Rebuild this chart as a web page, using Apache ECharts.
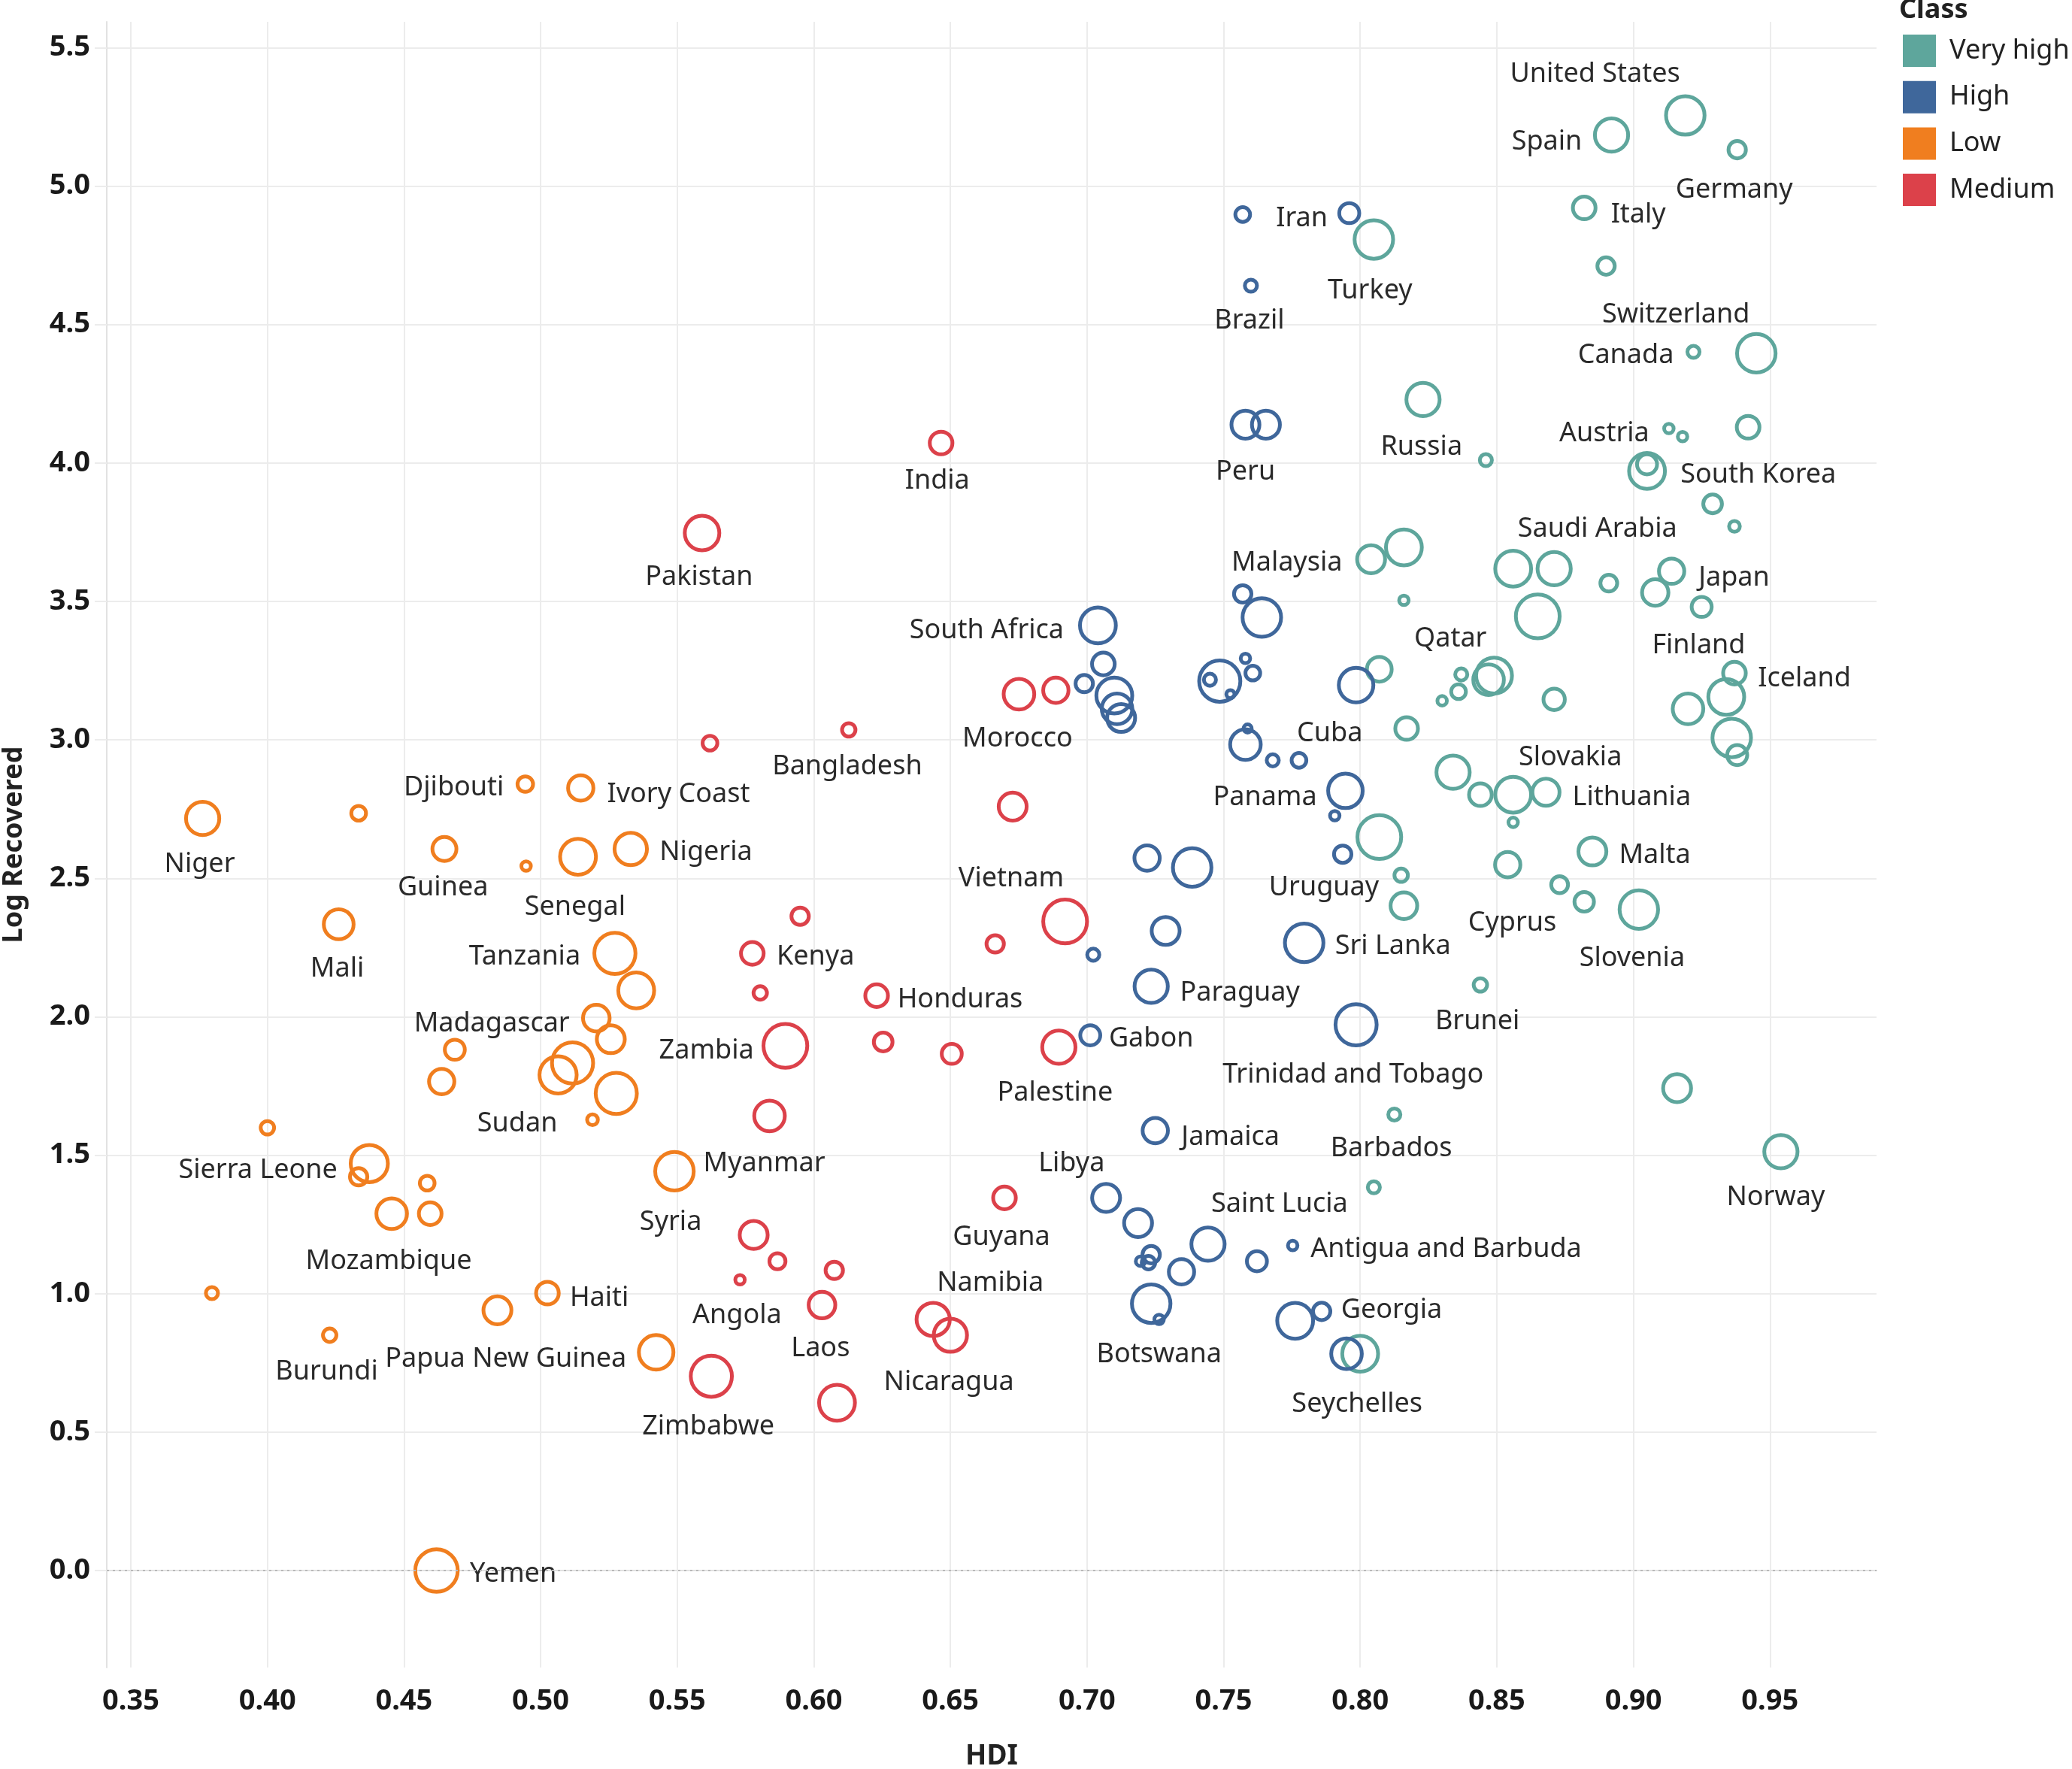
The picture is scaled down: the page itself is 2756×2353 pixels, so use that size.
<!DOCTYPE html>
<html><head><meta charset="utf-8">
<script src="https://cdn.jsdelivr.net/npm/echarts@6/dist/echarts.min.js"></script>
<style>html,body{margin:0;padding:0;background:#fff}#c{width:2756px;height:2353px}</style>
</head><body><div id="c"></div>
<script>
// ---------------- DATA ----------------
const classNames = ['Very high', 'High', 'Low', 'Medium'];
const xTickValues = [0.35, 0.40, 0.45, 0.50, 0.55, 0.60, 0.65, 0.70, 0.75, 0.80, 0.85, 0.90, 0.95];
const yTickValues = [0.0, 0.5, 1.0, 1.5, 2.0, 2.5, 3.0, 3.5, 4.0, 4.5, 5.0, 5.5];

const veryHighNames = ['United States','Spain','Germany','Italy','','Turkey','Switzerland','Canada','Russia','Austria','','','','South Korea','','','','Malaysia','','Saudi Arabia','','','Japan','','Finland','','','Iceland','Qatar','','','','','','','','','','','','','','Slovakia','Lithuania','','','Malta','','','','Cyprus','','Slovenia','Brunei','','Norway','Barbados','','Seychelles'];
const veryHighHDI = [0.919,0.892,0.938,0.882,0.890,0.805,0.945,0.922,0.823,0.913,0.918,0.942,0.846,0.905,0.905,0.929,0.937,0.804,0.816,0.856,0.871,0.891,0.914,0.908,0.925,0.865,0.816,0.937,0.849,0.847,0.837,0.836,0.830,0.871,0.920,0.934,0.936,0.938,0.807,0.817,0.834,0.844,0.856,0.868,0.856,0.807,0.885,0.854,0.815,0.816,0.873,0.882,0.902,0.844,0.916,0.954,0.8125,0.805,0.800];
const veryHighLog = [5.255,5.184,5.131,4.921,4.711,4.807,4.396,4.401,4.229,4.124,4.095,4.129,4.010,3.971,3.995,3.852,3.771,3.652,3.695,3.618,3.618,3.566,3.609,3.532,3.480,3.446,3.504,3.241,3.232,3.217,3.236,3.174,3.141,3.146,3.112,3.155,3.007,2.945,3.255,3.041,2.883,2.802,2.802,2.811,2.702,2.649,2.597,2.549,2.511,2.401,2.477,2.415,2.387,2.115,1.742,1.513,1.647,1.384,0.783];
const veryHighSize = [16,14,8,10,8,16,16,6,14,5,5,10,6,15,9,8.5,5.5,12,15,15,14,7.8,11,11.4,9,18,5,10,15,13,6,7,5,9.5,13,15,16,9,10.8,10,14,10,15,11.7,5,18,12,11,6.5,11.5,7.8,8.8,16,6.5,12,14,6,6,15];

const highNames = ['Iran','','Brazil','Peru','','','','South Africa','','','','','','','','','','','','','','','Cuba','Panama','','Uruguay','','','','','Sri Lanka','Paraguay','Gabon','Trinidad and Tobago','Jamaica','Libya','','Saint Lucia','','','','','','Antigua and Barbuda','','Botswana','','Georgia',''];
const highHDI = [0.796,0.757,0.760,0.758,0.7655,0.757,0.764,0.704,0.706,0.699,0.710,0.711,0.7125,0.7486,0.745,0.7525,0.758,0.7607,0.7588,0.758,0.768,0.7776,0.7985,0.7946,0.7907,0.7936,0.722,0.7385,0.7288,0.7023,0.7795,0.7235,0.7012,0.7985,0.725,0.707,0.7187,0.7443,0.7235,0.7225,0.7196,0.7346,0.7622,0.7753,0.7235,0.7264,0.7762,0.7859,0.795];
const highLog = [4.902,4.897,4.640,4.138,4.138,3.527,3.442,3.413,3.274,3.203,3.160,3.112,3.079,3.212,3.217,3.165,3.294,3.241,3.041,2.983,2.926,2.926,3.198,2.816,2.726,2.587,2.573,2.539,2.310,2.224,2.267,2.110,1.933,1.971,1.589,1.346,1.255,1.179,1.141,1.112,1.117,1.079,1.117,1.174,0.964,0.907,0.902,0.936,0.783];
const highSize = [9,7,6,12,12,8,16,15,10,8,15,13,12,17,6,4.5,5,7,4.5,13,6,7,14.5,14.5,5,8,11,16,12,6,16,14,9,17,11,12,12,14,8,6.5,5,11,9,5,16,5,15,8,13];

const lowNames = ['Niger','','Djibouti','Ivory Coast','Guinea','','Senegal','Nigeria','Mali','Tanzania','','Madagascar','','','','','','','Sudan','','Sierra Leone','','','Mozambique','','','Haiti','','Burundi','Papua New Guinea','Syria','Yemen'];
const lowHDI = [0.3763,0.4334,0.4944,0.5147,0.4648,0.4947,0.5137,0.533,0.4261,0.5272,0.535,0.5204,0.5257,0.4686,0.4638,0.5117,0.5064,0.5277,0.519,0.400,0.4373,0.4334,0.4585,0.4455,0.4596,0.3797,0.5025,0.4842,0.4228,0.5423,0.549,0.4619];
const lowLog = [2.716,2.735,2.840,2.826,2.606,2.544,2.578,2.606,2.334,2.229,2.095,1.995,1.919,1.881,1.766,1.833,1.790,1.723,1.628,1.599,1.470,1.422,1.399,1.289,1.289,1.002,1.002,0.940,0.850,0.788,1.442,0.0];
const lowSize = [14,7,7.3,11,10.5,5,15,13.7,12.7,17,15,11.5,12,9,11,17,15.5,17,5.5,6.5,15.5,8,7,13,10,6,10,12,6.5,14.5,16,17.5];

const mediumNames = ['India','Pakistan','','Bangladesh','Morocco','','Vietnam','','Kenya','','','','Honduras','Zambia','','','Palestine','Myanmar','Guyana','','','','Angola','Laos','Namibia','Nicaragua','Zimbabwe',''];
const mediumHDI = [0.6466,0.5591,0.562,0.6128,0.6751,0.6886,0.6728,0.595,0.5775,0.6664,0.692,0.5804,0.623,0.5896,0.6254,0.6505,0.6897,0.5838,0.6698,0.578,0.5867,0.6075,0.573,0.603,0.6437,0.650,0.5625,0.6085];
const mediumLog = [4.072,3.747,2.988,3.036,3.165,3.179,2.759,2.363,2.229,2.263,2.344,2.086,2.076,1.895,1.909,1.866,1.890,1.642,1.346,1.212,1.117,1.084,1.050,0.959,0.907,0.850,0.702,0.606];
const mediumSize = [10,14.5,7,6.5,13,11,12,8,10,8,18,6.5,10,18,8.5,9,14,13,10,12,7.5,8,5,11.5,14,14,17,15];

// ---------------- STYLE ----------------
const classColors = ['#5ea69c', '#3f679b', '#f07e1f', '#dc414a'];
const labelOffset = {
  'United States':[-120,-60],'Spain':[-86,4],'Germany':[-4,49],'Italy':[72,4],'Turkey':[-5,63],'Switzerland':[-107,-56],
  'Canada':[-90,0],'Russia':[-2,58],'Austria':[-86,2],'South Korea':[148,0],'Malaysia':[-112,0],'Saudi Arabia':[112,-58],
  'Japan':[83,4],'Qatar':[-58,-54],'Finland':[-4,46],'Iceland':[93,2],'Slovakia':[76,-54],'Lithuania':[114,2],'Malta':[83,0],
  'Cyprus':[-63,46],'Slovenia':[-9,60],'Brunei':[-4,44],'Barbados':[-4,40],'Norway':[-7,56],'Seychelles':[-4,62],
  'Iran':[-63,2],'Brazil':[-2,42],'Peru':[0,58],'South Africa':[-148,2],'Cuba':[-35,60],'Panama':[-107,4],'Uruguay':[-25,40],
  'Sri Lanka':[118,0],'Paraguay':[118,4],'Gabon':[81,0],'Trinidad and Tobago':[-4,62],'Jamaica':[100,4],'Libya':[-46,-51],
  'Saint Lucia':[95,-58],'Antigua and Barbuda':[204,0],'Botswana':[0,42],'Georgia':[93,-7],
  'Niger':[-4,56],'Djibouti':[-95,0],'Ivory Coast':[130,4],'Guinea':[-2,47],'Senegal':[-4,62],'Nigeria':[100,0],'Mali':[-2,54],
  'Tanzania':[-120,0],'Madagascar':[-139,2],'Sudan':[-100,0],'Sierra Leone':[-148,4],'Mozambique':[-4,58],'Haiti':[69,2],
  'Burundi':[-4,44],'Papua New Guinea':[-200,4],'Syria':[-5,63],'Yemen':[102,0],
  'India':[-5,46],'Pakistan':[-4,54],'Bangladesh':[-2,44],'Morocco':[-2,54],'Vietnam':[-2,91],'Kenya':[84,0],'Honduras':[111,0],
  'Zambia':[-105,2],'Palestine':[-5,56],'Myanmar':[-7,58],'Guyana':[-4,47],'Angola':[-4,42],'Laos':[-2,53],'Namibia':[76,-53],
  'Nicaragua':[-2,58],'Zimbabwe':[-4,62]
};
const LABEL_SHIFT_Y = 5;
const RING = 5;
const bubble = s => s * 3.515 - RING;

const classData = [
  [veryHighNames, veryHighHDI, veryHighLog, veryHighSize],
  [highNames, highHDI, highLog, highSize],
  [lowNames, lowHDI, lowLog, lowSize],
  [mediumNames, mediumHDI, mediumLog, mediumSize]
];

const series = classData.map(([names, xs, ys, ss], ci) => ({
  name: classNames[ci],
  type: 'scatter',
  silent: true,
  symbol: 'circle',
  symbolSize: v => bubble(v[2]),
  itemStyle: { color: 'rgba(0,0,0,0)', borderColor: classColors[ci], borderWidth: RING, opacity: 1 },
  data: xs.map((x, i) => {
    const nm = names[i];
    const item = { name: nm, value: [x, ys[i], ss[i]] };
    if (nm) item.label = { show: true, formatter: nm };
    return item;
  }),
  label: { show: false, position: 'inside', color: '#2a2a2a', fontSize: 36, fontFamily: 'Noto Sans',
    align: 'center', verticalAlign: 'middle' },
  labelLayout: params => {
    const nm = names[params.dataIndex];
    const off = labelOffset[nm] || [0, 0];
    return { dx: off[0], dy: off[1] + LABEL_SHIFT_Y, hideOverlap: false, moveOverlap: null };
  },
  markLine: ci === 0 ? {
    silent: true, symbol: 'none', animation: false,
    label: { show: false },
    lineStyle: { type: [3, 5], color: '#b9b9b9', width: 2 },
    data: [{ yAxis: 0 }]
  } : undefined
}));

const gridColor = '#ececec';
const ySplitColors = yTickValues.map(v => v === 0 ? 'rgba(0,0,0,0)' : gridColor);

const chart = echarts.init(document.getElementById('c'), null, { renderer: 'canvas', width: 2756, height: 2353 });
chart.setOption({
  animation: false,
  backgroundColor: '#ffffff',
  title: {
    text: 'Class', left: 2526, top: -4, padding: 0,
    textStyle: { fontFamily: 'Noto Sans', fontSize: 36, fontWeight: 'bold', color: '#222' }
  },
  legend: {
    data: classNames.map((n, i) => ({ name: n, icon: 'rect', itemStyle: { color: classColors[i], borderWidth: 0 } })),
    orient: 'vertical', left: 2531, top: 46, padding: 0,
    itemWidth: 44, itemHeight: 43, itemGap: 18.7,
    selectedMode: false,
    textStyle: { fontFamily: 'Noto Sans', fontSize: 36, color: '#222', padding: [0, 0, 0, 13] }
  },
  grid: { left: 142, right: 260, top: 29, bottom: 135, containLabel: false, outerBoundsMode: 'none' },
  xAxis: {
    type: 'value', min: 0.3412, max: 0.989,
    name: 'HDI', nameLocation: 'middle', nameGap: 100,
    nameTextStyle: { fontFamily: 'Noto Sans', fontSize: 37, fontWeight: 'bold', color: '#222' },
    axisLine: { show: true, lineStyle: { color: '#e2e2e2', width: 2 } },
    axisTick: { show: true, length: 11, customValues: xTickValues, lineStyle: { color: gridColor, width: 2 } },
    axisLabel: { customValues: xTickValues, margin: 26, formatter: v => v.toFixed(2),
      fontFamily: 'Noto Sans', fontSize: 38, fontWeight: 'bold', color: '#1a1a1a' },
    splitLine: { show: true, lineStyle: { color: gridColor, width: 2 } }
  },
  yAxis: {
    type: 'value', min: -0.35, max: 5.593,
    name: 'Log Recovered', nameLocation: 'middle', nameGap: 105, nameRotate: 90,
    nameTextStyle: { fontFamily: 'Noto Sans', fontSize: 36, fontWeight: 'bold', color: '#222' },
    axisLine: { show: true, lineStyle: { color: '#e2e2e2', width: 2 } },
    axisTick: { show: true, length: 16, customValues: yTickValues, lineStyle: { color: gridColor, width: 2 } },
    axisLabel: { customValues: yTickValues, margin: 22, formatter: v => v.toFixed(1),
      fontFamily: 'Noto Sans', fontSize: 38, fontWeight: 'bold', color: '#1a1a1a' },
    splitLine: { show: true, lineStyle: { color: ySplitColors, width: 2 } }
  },
  series
});
</script>
</body></html>
